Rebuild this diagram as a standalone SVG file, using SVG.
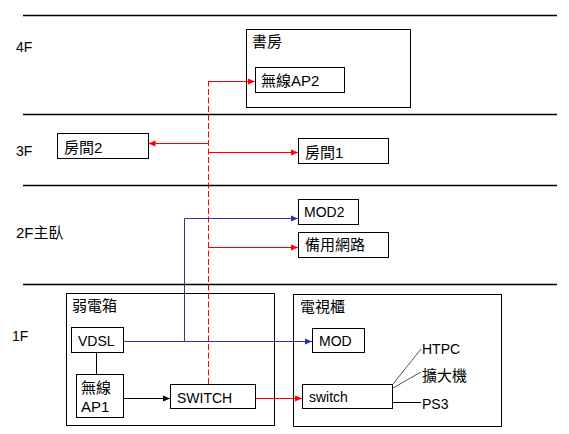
<svg xmlns="http://www.w3.org/2000/svg" width="569" height="434" viewBox="0 0 569 434">
<defs>
<style>
.box{fill:#fff;stroke:#000;stroke-width:1}
.floor{stroke:#000;stroke-width:1.3}
text{font-family:"Liberation Sans","Noto Sans CJK TC",sans-serif;font-size:14px;fill:#000}
.cjk{font-size:15px}
.red{stroke:#f00;stroke-width:1;fill:none}
.blue{stroke:#333399;stroke-width:1;fill:none}
.blk{stroke:#000;stroke-width:1;fill:none}
.gray{stroke:#555;stroke-width:1;fill:none}
</style>
<marker id="ar" markerWidth="7" markerHeight="7" refX="7" refY="3.5" orient="auto" markerUnits="userSpaceOnUse"><path d="M0,0.5 L7,3.5 L0,6.5 z" fill="#f00"/></marker>
<marker id="ab" markerWidth="7" markerHeight="7" refX="7" refY="3.5" orient="auto" markerUnits="userSpaceOnUse"><path d="M0,0.5 L7,3.5 L0,6.5 z" fill="#333399"/></marker>
<marker id="ak" markerWidth="7" markerHeight="7" refX="7" refY="3.5" orient="auto" markerUnits="userSpaceOnUse"><path d="M0,0.5 L7,3.5 L0,6.5 z" fill="#000"/></marker>
</defs>
<rect width="569" height="434" fill="#fff"/>
<g id="floors">
<line class="floor" x1="23" y1="15.5" x2="557" y2="15.5"/>
<line class="floor" x1="23" y1="114.5" x2="557" y2="114.5"/>
<line class="floor" x1="23" y1="185.5" x2="557" y2="185.5"/>
<line class="floor" x1="23" y1="284.5" x2="557" y2="284.5"/>
<text x="16" y="52">4F</text>
<text x="16" y="156">3F</text>
<text class="cjk" x="16" y="238">2F主臥</text>
<text x="12" y="341">1F</text>
</g>
<g id="study">
<rect class="box" x="246.5" y="29.5" width="164" height="78"/>
<text class="cjk" x="252" y="47">書房</text>
</g>
<g id="ap2">
<rect class="box" x="255.5" y="67.5" width="89" height="25"/>
<text class="cjk" x="261" y="86">無線AP2</text>
</g>
<g id="room2">
<rect class="box" x="57.5" y="133.5" width="91" height="25"/>
<text class="cjk" x="64" y="152.5">房間2</text>
</g>
<g id="room1">
<rect class="box" x="298.5" y="138.5" width="90" height="25"/>
<text class="cjk" x="305" y="157.5">房間1</text>
</g>
<g id="mod2">
<rect class="box" x="298.5" y="199.5" width="60" height="25"/>
<text x="304" y="217">MOD2</text>
</g>
<g id="backup">
<rect class="box" x="298.5" y="232.5" width="90" height="25"/>
<text class="cjk" x="305" y="250">備用網路</text>
</g>
<g id="weakbox">
<rect class="box" x="66.5" y="293.5" width="208" height="132"/>
<text class="cjk" x="72" y="311">弱電箱</text>
</g>
<g id="vdsl">
<rect class="box" x="71.5" y="327.5" width="52" height="25"/>
<text x="78" y="346">VDSL</text>
</g>
<g id="ap1">
<rect class="box" x="76.5" y="374.5" width="47" height="43"/>
<text class="cjk" x="81" y="393">無線</text>
<text class="cjk" x="81" y="412">AP1</text>
</g>
<g id="SWITCH">
<rect class="box" x="170.5" y="384.5" width="85" height="24"/>
<text x="177" y="402.5">SWITCH</text>
</g>
<g id="tvcab">
<rect class="box" x="293.5" y="294.5" width="208" height="132"/>
<text class="cjk" x="300" y="312">電視櫃</text>
</g>
<g id="mod">
<rect class="box" x="312.5" y="328.5" width="52" height="24"/>
<text x="319" y="346">MOD</text>
</g>
<g id="switch">
<rect class="box" x="302.5" y="384.5" width="90" height="24"/>
<text x="309" y="402">switch</text>
</g>
<g id="devices">
<text x="422" y="354">HTPC</text>
<text class="cjk" x="422" y="381">擴大機</text>
<text x="422" y="409">PS3</text>
</g>
<g id="connectors">
<path class="red" d="M208.5,384 V81" stroke-dasharray="6 2.5"/>
<path class="red" d="M208.5,81.5 H255" marker-end="url(#ar)"/>
<path class="red" d="M208.5,143.5 H148.5" marker-end="url(#ar)"/>
<path class="red" d="M208.5,152.5 H298" marker-end="url(#ar)"/>
<path class="red" d="M208.5,247.5 H298" marker-end="url(#ar)"/>
<path class="blue" d="M124,341.5 H312" marker-end="url(#ab)"/>
<path class="blue" d="M184.5,341.5 V218.5 H298" marker-end="url(#ab)"/>
<path class="blk" d="M96.5,352.5 V374.5"/>
<path class="blk" d="M123.5,398.5 H170" marker-end="url(#ak)"/>
<path class="red" d="M255.5,398.5 H302" marker-end="url(#ar)"/>
<path class="gray" d="M393,384 L421,349"/>
<path class="gray" d="M393,388 L421,372"/>
<path class="blk" d="M393,402.5 H421"/>
</g>
</svg>
